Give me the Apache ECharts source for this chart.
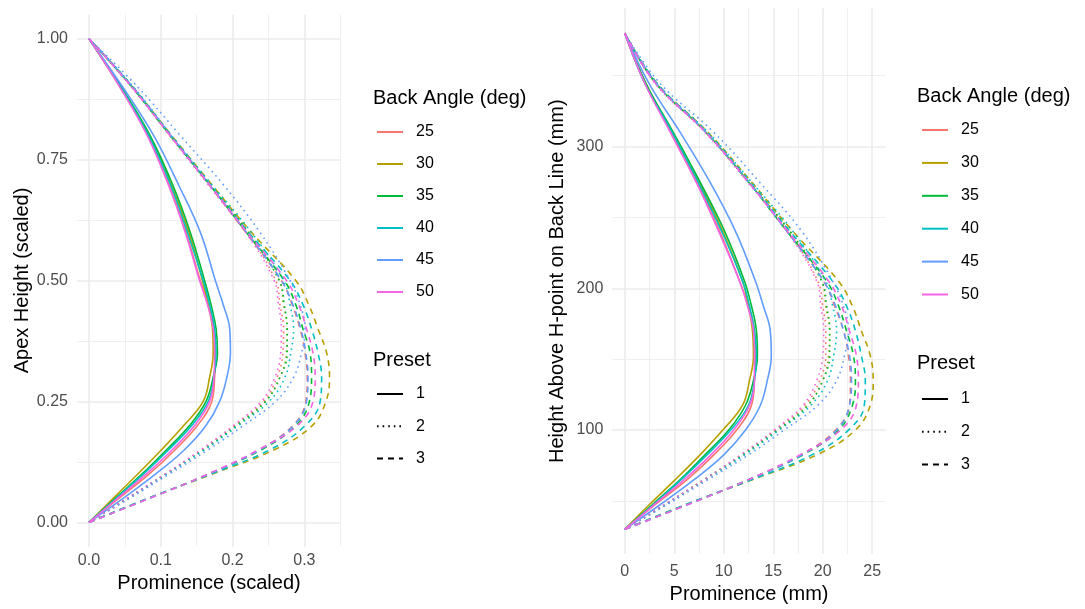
<!DOCTYPE html>
<html>
<head>
<meta charset="utf-8">
<script src="https://cdn.jsdelivr.net/npm/echarts@6/dist/echarts.min.js"></script>
<style>
html, body { margin: 0; padding: 0; background: #fff; }
#chart { width: 1085px; height: 609px; }
</style>
</head>
<body>
<div id="chart"></div>
<script>
// back angle groups and presets
var ANGLES = ['25', '30', '35', '40', '45', '50'];
var PRESETS = ['1', '2', '3'];

// heights where the prominence was read (scaled, and in mm above H-point)
var HEIGHT_SCALED = [0, 0.05, 0.1, 0.15, 0.2, 0.25, 0.3, 0.35, 0.4, 0.45, 0.5, 0.6, 0.7, 0.8, 0.9, 1];
var HEIGHT_MM = [30, 47.5, 65, 82.5, 100, 117.5, 135, 152.5, 170, 187.5, 205, 240, 275, 310, 345, 380];

// prominence (scaled), one row per angle 25..50
var SCALED_P1 = [
    [0, .042, .084, .120, .151, .171, .175, .176, .174, .166, .155, .135, .111, .082, .043, 0],
    [0, .034, .068, .101, .132, .159, .168, .173, .172, .166, .158, .139, .114, .084, .044, 0],
    [0, .037, .074, .108, .140, .163, .173, .179, .177, .170, .161, .141, .116, .085, .045, 0],
    [0, .038, .076, .111, .143, .166, .174, .177, .175, .168, .159, .137, .113, .083, .044, 0],
    [0, .048, .093, .133, .163, .182, .192, .197, .196, .187, .176, .155, .124, .090, .047, 0],
    [0, .040, .080, .116, .147, .168, .174, .175, .173, .165, .154, .134, .110, .081, .043, 0]
];
var SCALED_P2 = [
    [0, .054, .107, .157, .203, .243, .262, .270, .271, .266, .260, .220, .167, .113, .060, 0],
    [0, .055, .108, .160, .206, .246, .266, .275, .276, .271, .265, .222, .167, .113, .060, 0],
    [0, .054, .107, .159, .205, .246, .266, .276, .276, .272, .265, .222, .167, .113, .060, 0],
    [0, .055, .108, .161, .208, .251, .273, .281, .285, .280, .271, .226, .170, .115, .062, 0],
    [0, .057, .112, .166, .215, .260, .285, .296, .301, .294, .280, .238, .186, .127, .068, 0],
    [0, .053, .106, .156, .201, .240, .259, .267, .268, .264, .258, .218, .165, .112, .059, 0]
];
var SCALED_P3 = [
    [0, .084, .167, .237, .284, .302, .304, .301, .294, .283, .268, .218, .166, .113, .060, 0],
    [0, .083, .172, .258, .311, .330, .335, .331, .319, .306, .288, .226, .170, .115, .061, 0],
    [0, .084, .167, .240, .288, .307, .310, .308, .298, .288, .272, .219, .167, .113, .060, 0],
    [0, .083, .170, .252, .301, .322, .324, .319, .310, .298, .280, .222, .168, .114, .061, 0],
    [0, .085, .167, .238, .285, .303, .305, .302, .295, .284, .268, .219, .167, .114, .061, 0],
    [0, .085, .166, .236, .290, .312, .315, .312, .303, .292, .275, .220, .167, .113, .060, 0]
];

// prominence (mm), one row per angle 25..50
var MM_P1 = [
    [0, 3.1, 6.3, 9.0, 11.3, 12.8, 13.1, 13.2, 13.1, 12.5, 11.6, 9.6, 7.3, 4.7, 2.0, 0],
    [0, 2.5, 5.1, 7.6, 9.9, 11.9, 12.6, 13.0, 12.9, 12.5, 11.9, 9.9, 7.5, 4.8, 2.1, 0],
    [0, 2.8, 5.6, 8.1, 10.5, 12.2, 13.0, 13.4, 13.3, 12.8, 12.1, 10.1, 7.6, 4.9, 2.1, 0],
    [0, 2.9, 5.7, 8.3, 10.7, 12.5, 13.1, 13.3, 13.1, 12.6, 11.9, 9.8, 7.4, 4.8, 2.0, 0],
    [0, 3.6, 7.0, 10.0, 12.2, 13.7, 14.4, 14.8, 14.7, 14.0, 13.2, 11.2, 8.6, 5.6, 2.4, 0],
    [0, 3.0, 6.0, 8.7, 11.0, 12.6, 13.1, 13.1, 13.0, 12.4, 11.6, 9.5, 7.2, 4.6, 2.0, 0]
];
var MM_P2 = [
    [0, 4.1, 8.0, 11.8, 15.2, 18.2, 19.7, 20.3, 20.3, 20.0, 19.5, 16.5, 12.5, 8.2, 3.1, 0],
    [0, 4.1, 8.1, 12.0, 15.5, 18.5, 20.0, 20.6, 20.7, 20.3, 19.9, 16.7, 12.5, 8.2, 3.1, 0],
    [0, 4.1, 8.0, 11.9, 15.4, 18.5, 20.0, 20.7, 20.7, 20.4, 19.9, 16.7, 12.5, 8.2, 3.1, 0],
    [0, 4.1, 8.1, 12.1, 15.6, 18.8, 20.5, 21.1, 21.4, 21.0, 20.3, 17.0, 12.8, 8.4, 3.2, 0],
    [0, 4.3, 8.4, 12.5, 16.1, 19.5, 21.4, 22.2, 22.6, 22.1, 21.0, 17.9, 13.6, 9.0, 3.5, 0],
    [0, 4.0, 8.0, 11.7, 15.1, 18.0, 19.4, 20.0, 20.1, 19.8, 19.4, 16.4, 12.4, 8.1, 3.0, 0]
];
var MM_P3 = [
    [0, 6.3, 12.5, 17.8, 21.3, 22.7, 22.8, 22.6, 22.1, 21.2, 20.1, 16.4, 12.5, 8.2, 3.1, 0],
    [0, 6.2, 12.9, 19.4, 23.3, 24.8, 25.1, 24.8, 23.9, 23.0, 21.6, 17.0, 12.8, 8.4, 3.2, 0],
    [0, 6.3, 12.5, 18.0, 21.6, 23.0, 23.3, 23.1, 22.4, 21.6, 20.4, 16.4, 12.5, 8.2, 3.1, 0],
    [0, 6.2, 12.8, 18.9, 22.6, 24.2, 24.3, 23.9, 23.3, 22.4, 21.0, 16.7, 12.6, 8.3, 3.2, 0],
    [0, 6.4, 12.5, 17.9, 21.4, 22.7, 22.9, 22.7, 22.1, 21.3, 20.1, 16.4, 12.5, 8.2, 3.1, 0],
    [0, 6.4, 12.5, 17.7, 21.8, 23.4, 23.6, 23.4, 22.7, 21.9, 20.6, 16.5, 12.5, 8.2, 3.1, 0]
];

// tick values
var L_X_TICKS = [0, 0.1, 0.2, 0.3];
var L_X_MINOR = [0.05, 0.15, 0.25, 0.35];
var L_Y_TICKS = [0, 0.25, 0.5, 0.75, 1];
var L_Y_MINOR = [0.125, 0.375, 0.625, 0.875];
var R_X_TICKS = [0, 5, 10, 15, 20, 25];
var R_X_MINOR = [2.5, 7.5, 12.5, 17.5, 22.5];
var R_Y_TICKS = [100, 200, 300];
var R_Y_MINOR = [50, 150, 250, 350];

var COLORS = ['#F8766D', '#B79F00', '#00BA38', '#00BFC4', '#619CFF', '#F564E3'];
var DASHES = ['solid', [1.6, 4], [6, 5]];
var FONT = '"Liberation Sans", Arial, Helvetica, sans-serif';
var GRID_COLOR = '#EBEBEB';

var chart = echarts.init(document.getElementById('chart'));

function majorAxis(grid, min, max, ticks, fmt, name, nameGap, margin) {
    return {
        gridIndex: grid, type: 'value', min: min, max: max,
        name: name, nameLocation: 'middle', nameGap: nameGap,
        nameTextStyle: {fontSize: 20, color: '#000', fontFamily: FONT},
        axisLine: {show: false},
        axisTick: {show: false, customValues: ticks},
        axisLabel: {customValues: ticks, formatter: fmt, fontSize: 16, color: '#4D4D4D', fontFamily: FONT, margin: margin},
        splitLine: {show: true, lineStyle: {color: GRID_COLOR, width: 1.6}}
    };
}
function minorAxis(grid, min, max, ticks) {
    return {
        gridIndex: grid, type: 'value', min: min, max: max,
        axisLine: {show: false},
        axisTick: {show: false, customValues: ticks},
        axisLabel: {show: false, customValues: ticks},
        splitLine: {show: true, lineStyle: {color: GRID_COLOR, width: 0.8}}
    };
}

var series = [];
function addCurves(axis, heights, rowsByPreset) {
    for (var a = 0; a < ANGLES.length; a++) {
        for (var p = 0; p < PRESETS.length; p++) {
            var xs = rowsByPreset[p][a];
            var pts = [];
            for (var i = 0; i < heights.length; i++) pts.push([xs[i], heights[i]]);
            series.push({
                name: ANGLES[a], type: 'line', xAxisIndex: axis, yAxisIndex: axis,
                data: pts, symbol: 'none', smooth: 0.4,
                silent: true, animation: false,
                itemStyle: {color: COLORS[a]},
                lineStyle: {color: COLORS[a], width: 1.6, type: DASHES[p], cap: 'butt'}
            });
        }
    }
}
addCurves(0, HEIGHT_SCALED, [SCALED_P1, SCALED_P2, SCALED_P3]);
addCurves(1, HEIGHT_MM, [MM_P1, MM_P2, MM_P3]);
// legend-only entries for linetype
for (var p = 0; p < PRESETS.length; p++) {
    series.push({
        name: PRESETS[p], type: 'line', xAxisIndex: 0, yAxisIndex: 0, data: [], symbol: 'none',
        itemStyle: {color: '#000'},
        lineStyle: {color: '#000', width: 1.6, type: DASHES[p], cap: 'butt'}
    });
}

function legendBox(names, left, top, gap) {
    return {
        data: names, orient: 'vertical', left: left, top: top, padding: 0,
        itemWidth: 26, itemHeight: 16, itemGap: gap, selectedMode: false,
        itemStyle: {opacity: 0},
        textStyle: {fontSize: 16, lineHeight: 16, color: '#000', fontFamily: FONT, padding: [0, 0, 0, 8]}
    };
}
function legendTitle(text, left, top) {
    return {text: text, left: left, top: top, padding: 0,
        textStyle: {fontSize: 20, lineHeight: 20, fontWeight: 'normal', color: '#000', fontFamily: FONT}};
}

var option = {
    backgroundColor: '#fff',
    animation: false,
    title: [
        legendTitle('Back Angle (deg)', 373, 88),
        legendTitle('Preset', 373, 350),
        legendTitle('Back Angle (deg)', 917, 86),
        legendTitle('Preset', 917, 353)
    ],
    legend: [
        legendBox(ANGLES, 376, 124, 16),
        legendBox(PRESETS, 376, 386, 16.2),
        legendBox(ANGLES, 921, 122, 16.9),
        legendBox(PRESETS, 921, 391, 16.7)
    ],
    grid: [
        {left: 77, top: 14.5, width: 264, height: 532},
        {left: 612.3, top: 8.3, width: 273.4, height: 546.7}
    ],
    xAxis: [
        majorAxis(0, -0.0167, 0.351, L_X_TICKS, function (v) { return v.toFixed(1); }, 'Prominence (scaled)', 25, 6),
        majorAxis(1, -1.26, 26.36, R_X_TICKS, function (v) { return String(v); }, 'Prominence (mm)', 27, 9),
        minorAxis(0, -0.0167, 0.351, L_X_MINOR),
        minorAxis(1, -1.26, 26.36, R_X_MINOR)
    ],
    yAxis: [
        majorAxis(0, -0.05, 1.05, L_Y_TICKS, function (v) { return v.toFixed(2); }, 'Apex Height (scaled)', 45, 9),
        majorAxis(1, 12.5, 397.5, R_Y_TICKS, function (v) { return String(v); }, 'Height Above H-point on Back Line (mm)', 45, 9),
        minorAxis(0, -0.05, 1.05, L_Y_MINOR),
        minorAxis(1, 12.5, 397.5, R_Y_MINOR)
    ],
    series: series
};
chart.setOption(option);
</script>
</body>
</html>
